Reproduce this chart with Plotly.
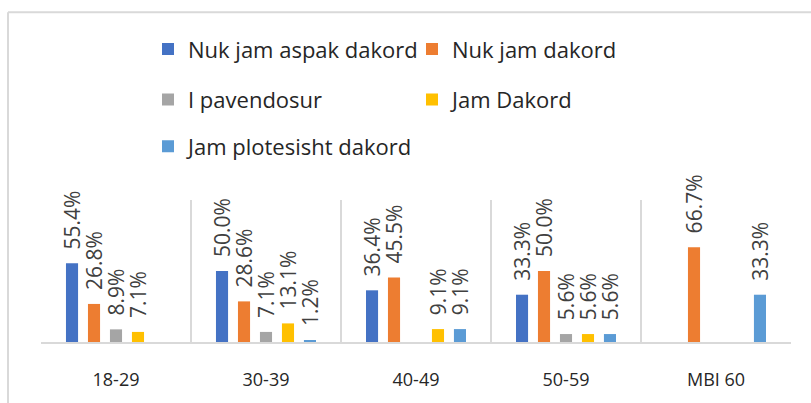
import plotly.graph_objects as go

categories = ["18-29", "30-39", "40-49", "50-59", "MBI 60"]
series_names = ["Nuk jam aspak dakord", "Nuk jam dakord", "I pavendosur", "Jam Dakord", "Jam plotesisht dakord"]
nuk_jam_aspak_dakord = [55.4, 50.0, 36.4, 33.3, None]
nuk_jam_dakord = [26.8, 28.6, 45.5, 50.0, 66.7]
i_pavendosur = [8.9, 7.1, None, 5.6, None]
jam_dakord = [7.1, 13.1, 9.1, 5.6, None]
jam_plotesisht_dakord = [None, 1.2, 9.1, 5.6, 33.3]
series_values = [nuk_jam_aspak_dakord, nuk_jam_dakord, i_pavendosur, jam_dakord, jam_plotesisht_dakord]
colors = ["#4472C4", "#ED7D31", "#A5A5A5", "#FFC000", "#5B9BD5"]
legend_ids = ["legend", "legend", "legend2", "legend2", "legend3"]

W, H = 811, 403
L, R, T, B = 41, 20, 200, 57
pw, ph = W - L - R, H - T - B

def px_x(p):
    return (p - L) / pw

def px_y(p):
    return (H - B - p) / ph

FONT = "Open Sans"
fig = go.Figure()
pad = "\u00a0\u00a0"
for name, vals, col, lg in zip(series_names, series_values, colors, legend_ids):
    fig.add_trace(go.Bar(
        x=categories, y=vals, name=name, marker=dict(color=col, line=dict(width=0)),
        text=[(pad + f"{v:.1f}%") if v is not None else None for v in vals],
        textposition="outside", textangle=-90, constraintext="none",
        textfont=dict(family=FONT, size=21, color="#404040"),
        cliponaxis=False, legend=lg, hoverinfo="skip",
    ))

leg_common = dict(orientation="h", xanchor="left", yanchor="middle",
                  font=dict(family=FONT, size=22, color="#262626"),
                  entrywidth=219, entrywidthmode="pixels",
                  bgcolor="rgba(0,0,0,0)", borderwidth=0, itemclick=False)

fig.update_layout(
    width=W, height=H, margin=dict(l=L, r=R, t=T, b=B),
    paper_bgcolor="white", plot_bgcolor="white",
    barmode="group", bargap=0.267, bargroupgap=0.45,
    xaxis=dict(type="category", tickson="boundaries", showgrid=True, gridcolor="#D9D9D9", gridwidth=2,
               showline=True, linecolor="#D9D9D9", linewidth=2, ticks="",
               tickfont=dict(family=FONT, size=18, color="#262626"), ticklabelstandoff=20),
    yaxis=dict(range=[0, 100], visible=False, showgrid=False, zeroline=False),
    legend=dict(x=px_x(148), y=px_y(45), **leg_common),
    legend2=dict(x=px_x(148), y=px_y(97), **leg_common),
    legend3=dict(x=px_x(148), y=px_y(145), **leg_common),
    showlegend=True,
    shapes=[
        dict(type="line", xref="paper", yref="paper", x0=px_x(8), x1=px_x(830), y0=px_y(7), y1=px_y(7),
             line=dict(color="#D9D9D9", width=2)),
        dict(type="line", xref="paper", yref="paper", x0=px_x(8), x1=px_x(8), y0=px_y(7), y1=px_y(420),
             line=dict(color="#D9D9D9", width=2)),
    ],
)

fig.write_html("out.html", config={"displayModeBar": False},
               post_script="document.body.style.margin='0';document.body.style.overflow='hidden';")
